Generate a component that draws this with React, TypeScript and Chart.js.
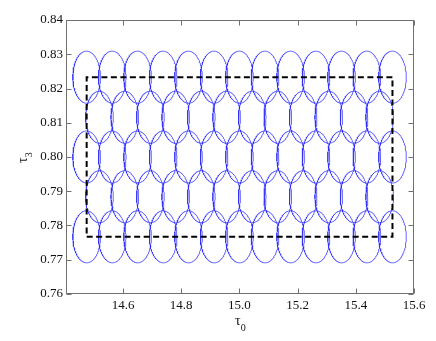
import { useEffect, useRef } from 'react';
import { Chart, registerables } from 'chart.js';
Chart.register(...registerables);

// axis ranges and tick labels
const xRange = [14.404, 15.6];
const yRange = [0.76, 0.84];
const xTicks = [14.6, 14.8, 15.0, 15.2, 15.4, 15.6];
const yTicks = [0.76, 0.77, 0.78, 0.79, 0.8, 0.81, 0.82, 0.83, 0.84];

// template lattice: rows of tau3 and tau0 centres (full rows and offset rows)
const rowTau3Full = [0.8233, 0.8, 0.7767];
const rowTau3Offset = [0.8116, 0.7884];
const tau0Full = [14.475, 14.563, 14.65, 14.738, 14.825, 14.913, 15.0, 15.088, 15.176, 15.263, 15.351, 15.438, 15.526];
const tau0Offset = [14.519, 14.606, 14.694, 14.781, 14.869, 14.956, 15.044, 15.132, 15.219, 15.307, 15.394, 15.482];
// ellipse semi-axes in data units
const semiTau0 = [0.0475];
const semiTau3 = [0.0076];

// dashed boundary rectangle
const rectTau0 = [14.475, 15.526];
const rectTau3 = [0.7767, 0.8233];

const FONT = "'Liberation Serif', 'Times New Roman', serif";

function ellipse(cx: number, cy: number) {
  const pts: { x: number; y: number }[] = [];
  const n = 160;
  for (let i = 0; i <= n; i++) {
    const t = (i / n) * Math.PI * 2;
    pts.push({ x: cx + semiTau0[0] * Math.cos(t), y: cy + semiTau3[0] * Math.sin(t) });
  }
  return pts;
}

const framePlugin = {
  id: 'frame',
  afterDatasetsDraw(chart: any) {
    const { ctx, chartArea: a, scales } = chart;
    const xs = scales.x, ys = scales.y;
    ctx.save();
    ctx.strokeStyle = '#707070';
    ctx.lineWidth = 1;
    const L = Math.round(a.left) + 0.5, R = Math.round(a.right) - 0.5;
    const T = Math.round(a.top) + 0.5, B = Math.round(a.bottom) - 0.5;
    ctx.strokeRect(L, T, R - L, B - T);
    ctx.beginPath();
    const tl = 5;
    xTicks.forEach((v) => {
      const px = Math.round(xs.getPixelForValue(v)) + 0.5;
      ctx.moveTo(px, B); ctx.lineTo(px, B - tl);
      ctx.moveTo(px, T); ctx.lineTo(px, T + tl);
    });
    yTicks.forEach((v) => {
      const py = Math.round(ys.getPixelForValue(v)) + 0.5;
      ctx.moveTo(L, py); ctx.lineTo(L + tl, py);
      ctx.moveTo(R, py); ctx.lineTo(R - tl, py);
    });
    ctx.stroke();

    // axis titles
    ctx.fillStyle = '#111';
    ctx.textBaseline = 'alphabetic';
    ctx.textAlign = 'left';
    const cx = (a.left + a.right) / 2;
    ctx.font = `14px ${FONT}`;
    const tw = ctx.measureText('τ').width;
    ctx.fillText('τ', cx - 5, 325);
    ctx.font = `10px ${FONT}`;
    ctx.fillText('0', cx - 5 + tw, 331);

    ctx.save();
    ctx.translate(27, (a.top + a.bottom) / 2 + 6);
    ctx.rotate(-Math.PI / 2);
    ctx.font = `14px ${FONT}`;
    ctx.fillText('τ', 0, 0);
    ctx.font = `10px ${FONT}`;
    ctx.fillText('3', tw, 5);
    ctx.restore();
    ctx.restore();
  },
};

export default function App() {
  const ref = useRef<HTMLCanvasElement>(null);
  useEffect(() => {
    const datasets: any[] = [];
    datasets.push({
      data: [
        { x: rectTau0[0], y: rectTau3[0] },
        { x: rectTau0[1], y: rectTau3[0] },
        { x: rectTau0[1], y: rectTau3[1] },
        { x: rectTau0[0], y: rectTau3[1] },
        { x: rectTau0[0], y: rectTau3[0] },
      ],
      showLine: true,
      borderColor: '#000',
      borderWidth: 2,
      borderDash: [6, 3.5],
      pointRadius: 0,
      fill: false,
    });
    const addRow = (cy: number, cols: number[]) => {
      cols.forEach((cx) => {
        datasets.push({
          data: ellipse(cx, cy),
          showLine: true,
          borderColor: 'rgba(40,40,255,0.8)',
          borderWidth: 0.9,
          borderJoinStyle: 'round',
          pointRadius: 0,
          fill: false,
          tension: 0,
        });
      });
    };
    rowTau3Full.forEach((y) => addRow(y, tau0Full));
    rowTau3Offset.forEach((y) => addRow(y, tau0Offset));

    const tickFont = { family: FONT, size: 13 };
    const chart = new Chart(ref.current!, {
      type: 'scatter',
      data: { datasets },
      plugins: [framePlugin],
      options: {
        animation: false,
        responsive: false,
        events: [],
        layout: { padding: { left: 0, top: 20, right: 22, bottom: 0 } },
        plugins: { legend: { display: false }, tooltip: { enabled: false } },
        scales: {
          x: {
            type: 'linear',
            min: xRange[0],
            max: xRange[1],
            afterBuildTicks: (s: any) => { s.ticks = xTicks.map((v) => ({ value: v })); },
            afterFit: (s: any) => { s.height = 47; },
            ticks: { callback: (v: any) => Number(v).toFixed(1), font: tickFont, color: '#111', padding: 4, maxRotation: 0, autoSkip: false },
            grid: { display: false, drawTicks: false },
            border: { display: false },
          },
          y: {
            type: 'linear',
            min: yRange[0],
            max: yRange[1],
            afterBuildTicks: (s: any) => { s.ticks = yTicks.map((v) => ({ value: v })); },
            afterFit: (s: any) => { s.width = 66; },
            ticks: { callback: (v: any) => Number(v).toFixed(2), font: tickFont, color: '#111', padding: 3, autoSkip: false },
            grid: { display: false, drawTicks: false },
            border: { display: false },
          },
        },
      },
    });
    return () => chart.destroy();
  }, []);
  return (
    <div style={{ position: 'absolute', left: 0, top: 0, width: 436, height: 341, background: '#fff' }}>
      <canvas ref={ref} width={436} height={341} style={{ display: 'block' }} />
    </div>
  );
}
